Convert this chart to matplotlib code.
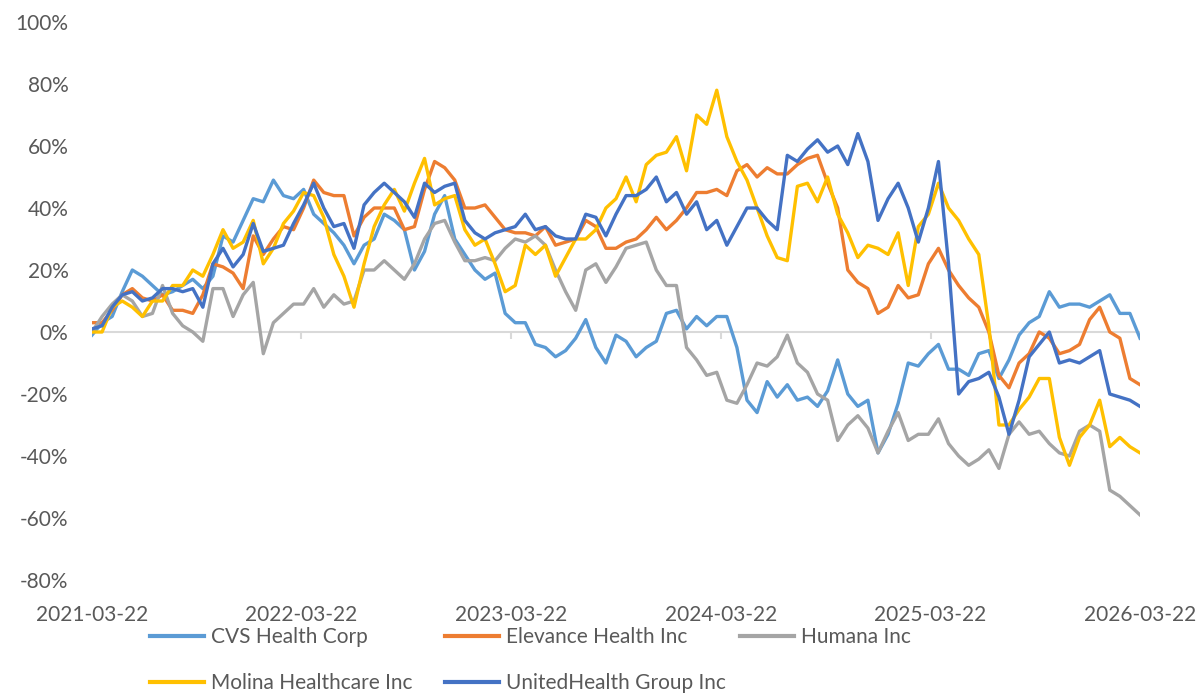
import matplotlib
matplotlib.use("Agg")
import matplotlib.pyplot as plt
import pandas as pd
from matplotlib.lines import Line2D

plt.rcParams['font.family'] = ['Liberation Sans Narrow', 'Lato', 'DejaVu Sans']

dates = pd.date_range('2021-03-22', '2026-03-22', periods=105)

tick_labels = ['2021-03-22', '2022-03-22', '2023-03-22', '2024-03-22', '2025-03-22', '2026-03-22']
series_names = ['CVS Health Corp', 'Elevance Health Inc', 'Humana Inc',
                'Molina Healthcare Inc', 'UnitedHealth Group Inc']

cvs = [-1, 3, 5, 13, 20, 18, 15, 12, 13, 15,
       17, 14, 18, 31, 29, 36, 43, 42, 49, 44,
       43, 46, 38, 35, 32, 28, 22, 28, 30, 38,
       36, 33, 20, 26, 38, 44, 30, 25, 20, 17,
       19, 6, 3, 3, -4, -5, -8, -6, -2, 4,
       -5, -10, -1, -3, -8, -5, -3, 6, 7, 1,
       5, 2, 5, 5, -5, -22, -26, -16, -21, -17,
       -22, -21, -24, -19, -9, -20, -24, -22, -39, -33,
       -23, -10, -11, -7, -4, -12, -12, -14, -7, -6,
       -15, -9, -1, 3, 5, 13, 8, 9, 9, 8,
       10, 12, 6, 6, -2]

elevance = [3, 3, 7, 12, 14, 11, 10, 12, 7, 7,
            6, 12, 22, 21, 19, 14, 31, 25, 30, 34,
            33, 40, 49, 45, 44, 44, 31, 37, 40, 40,
            40, 33, 34, 46, 55, 53, 49, 40, 40, 41,
            37, 33, 32, 32, 31, 34, 28, 29, 30, 36,
            34, 27, 27, 29, 30, 33, 37, 33, 36, 40,
            45, 45, 46, 44, 52, 54, 50, 53, 51, 51,
            54, 56, 57, 48, 40, 20, 16, 14, 6, 8,
            15, 11, 12, 22, 27, 20, 15, 11, 8, 0,
            -14, -18, -10, -7, 0, -2, -7, -6, -4, 4,
            8, 0, -2, -15, -17]

humana = [0, 5, 9, 12, 10, 5, 6, 15, 6, 2,
          0, -3, 14, 14, 5, 12, 16, -7, 3, 6,
          9, 9, 14, 8, 12, 9, 10, 20, 20, 23,
          20, 17, 22, 30, 35, 36, 29, 23, 23, 24,
          23, 27, 30, 29, 31, 28, 20, 13, 7, 20,
          22, 16, 21, 27, 28, 29, 20, 15, 15, -5,
          -9, -14, -13, -22, -23, -17, -10, -11, -8, -1,
          -10, -13, -20, -22, -35, -30, -27, -31, -39, -32,
          -26, -35, -33, -33, -28, -36, -40, -43, -41, -38,
          -44, -33, -29, -33, -32, -36, -39, -40, -32, -30,
          -32, -51, -53, -56, -59]

molina = [0, 0, 8, 10, 8, 5, 10, 10, 15, 15,
          20, 18, 25, 33, 27, 29, 36, 22, 27, 35,
          39, 45, 44, 37, 25, 18, 8, 22, 34, 41,
          46, 39, 48, 56, 41, 43, 44, 33, 28, 30,
          22, 13, 15, 28, 25, 28, 18, 24, 30, 30,
          33, 40, 43, 50, 42, 54, 57, 58, 63, 52,
          70, 67, 78, 63, 55, 49, 40, 31, 24, 23,
          47, 48, 42, 50, 38, 32, 24, 28, 27, 25,
          32, 15, 34, 38, 48, 40, 36, 30, 25, 2,
          -30, -30, -25, -21, -15, -15, -34, -43, -34, -30,
          -22, -37, -34, -37, -39]

unitedhealth = [1, 2, 8, 12, 13, 10, 11, 14, 14, 13,
                14, 8, 22, 27, 21, 25, 35, 26, 27, 28,
                35, 41, 48, 40, 34, 35, 27, 41, 45, 48,
                45, 42, 37, 48, 45, 47, 48, 36, 32, 30,
                32, 33, 34, 38, 33, 34, 31, 30, 30, 38,
                37, 31, 38, 44, 44, 46, 50, 42, 45, 38,
                42, 33, 36, 28, 34, 40, 40, 36, 33, 57,
                55, 59, 62, 58, 60, 54, 64, 55, 36, 43,
                48, 40, 29, 40, 55, 22, -20, -16, -15, -13,
                -21, -33, -22, -8, -4, 0, -10, -9, -10, -8,
                -6, -20, -21, -22, -24]

colors = ['#5B9BD5', '#ED7D31', '#A5A5A5', '#FFC000', '#4472C4']
text_color = '#595959'

W, H = 1197, 696
fig = plt.figure(figsize=(W / 100, H / 100), dpi=100)
ax = fig.add_axes([92 / W, 1 - 580 / H, (1140 - 92) / W, (580 - 22) / H])

tick_dates = pd.to_datetime(tick_labels)

ax.axhline(0, color='#D9D9D9', lw=1.5, zorder=1)
ax.vlines(tick_dates[1:-1], -2.2, 0, color='#D9D9D9', lw=1.5, zorder=1)

lines = []
for vals, col, name in zip([cvs, elevance, humana, molina, unitedhealth], colors, series_names):
    ln, = ax.plot(dates, vals, color=col, lw=2.4, label=name, zorder=2,
                  solid_joinstyle='round')
    lines.append(ln)

ax.set_xlim(tick_dates[0], tick_dates[-1])
ax.set_ylim(-80, 100)
ax.set_yticks(range(-80, 101, 20))
ax.set_yticklabels([f'{v}%' for v in range(-80, 101, 20)])
ax.set_xticks(tick_dates)
ax.set_xticklabels(tick_labels)
for s in ax.spines.values():
    s.set_visible(False)
ax.tick_params(axis='y', length=0, pad=17, labelsize=15, labelcolor=text_color)
ax.tick_params(axis='x', length=0, pad=18, labelsize=15, labelcolor=text_color)

# legend entries placed in a 3-column grid
legend_pos = [(150, 637), (445, 637), (740, 637), (150, 683), (445, 683)]
for ln, (px, py) in zip(lines, legend_pos):
    h = Line2D([], [], color=ln.get_color(), lw=3)
    fig.legend(handles=[h], labels=[ln.get_label()], loc='center left',
               bbox_to_anchor=(px / W, 1 - py / H), frameon=False,
               borderpad=0, borderaxespad=0, handlelength=2.6, handletextpad=0.35,
               fontsize=15, labelcolor=text_color)

fig.savefig('out.png', dpi=100)
